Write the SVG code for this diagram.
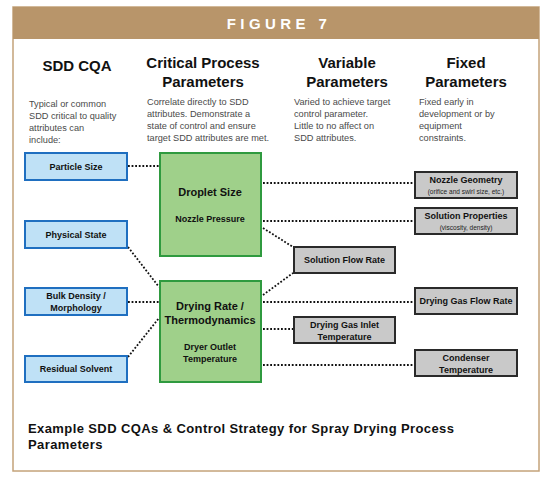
<svg xmlns="http://www.w3.org/2000/svg" width="550" height="481" viewBox="0 0 550 481">
<style>
.frame{fill:#fff;stroke:#c4a37a;stroke-width:1.5}
.hdr{fill:#b8956a}
.title{font-family:"Liberation Sans",Arial,sans-serif;font-weight:bold;font-size:15px;fill:#fff;letter-spacing:4.4px;text-anchor:middle}
.col{font-family:"Liberation Sans",Arial,sans-serif;font-weight:bold;font-size:15px;fill:#111;text-anchor:middle}
.desc{font-family:"Liberation Sans",Arial,sans-serif;font-size:9.2px;fill:#4a4a4a}
.blue{fill:#bfe1f6;stroke:#1f6fc0;stroke-width:2}
.green{fill:#9fd08a;stroke:#2f9a3f;stroke-width:2}
.gray{fill:#c9c9c9;stroke:#2a2a2a;stroke-width:2}
.lbl{font-family:"Liberation Sans",Arial,sans-serif;font-weight:bold;font-size:9px;fill:#111;text-anchor:middle}
.big{font-family:"Liberation Sans",Arial,sans-serif;font-weight:bold;font-size:11px;fill:#111;text-anchor:middle}
.small{font-family:"Liberation Sans",Arial,sans-serif;font-size:6.5px;fill:#222;text-anchor:middle}
.cap{font-family:"Liberation Sans",Arial,sans-serif;font-weight:bold;font-size:13px;letter-spacing:0.4px;fill:#111}
.conn line{stroke:#111;stroke-width:1.8;stroke-dasharray:1.8 1.8;fill:none}
</style>
<rect class="frame" x="13" y="7" width="526" height="464"/>
<rect class="hdr" x="13" y="7" width="526" height="32"/>
<text class="title" x="279" y="29">FIGURE 7</text>

<g id="headings">
<text class="col" x="77" y="71">SDD CQA</text>
<text class="col" x="203" y="68">Critical Process</text>
<text class="col" x="203" y="87">Parameters</text>
<text class="col" x="347" y="68">Variable</text>
<text class="col" x="347" y="87">Parameters</text>
<text class="col" x="466" y="68">Fixed</text>
<text class="col" x="466" y="87">Parameters</text>
</g>
<g id="descriptions">
<text class="desc" x="29" y="107">Typical or common</text>
<text class="desc" x="29" y="119">SDD critical to quality</text>
<text class="desc" x="29" y="131">attributes can</text>
<text class="desc" x="29" y="143">include:</text>
<text class="desc" x="147" y="105">Correlate directly to SDD</text>
<text class="desc" x="147" y="117">attributes. Demonstrate a</text>
<text class="desc" x="147" y="129">state of control and ensure</text>
<text class="desc" x="147" y="141">target SDD attributes are met.</text>
<text class="desc" x="294" y="105">Varied to achieve target</text>
<text class="desc" x="294" y="117">control parameter.</text>
<text class="desc" x="294" y="129">Little to no affect on</text>
<text class="desc" x="294" y="141">SDD attributes.</text>
<text class="desc" x="419" y="105">Fixed early in</text>
<text class="desc" x="419" y="117">development  or by</text>
<text class="desc" x="419" y="129">equipment</text>
<text class="desc" x="419" y="141">constraints.</text>
</g>

<g class="conn" id="connectors">
<line x1="128" y1="166" x2="159" y2="166"/>
<line x1="263" y1="183" x2="414" y2="183"/>
<line x1="263" y1="221" x2="414" y2="221"/>
<line x1="263" y1="228" x2="293" y2="247"/>
<line x1="263" y1="295" x2="293" y2="273"/>
<line x1="263" y1="302" x2="414" y2="302"/>
<line x1="263" y1="329" x2="293" y2="329"/>
<line x1="263" y1="365" x2="414" y2="365"/>
<line x1="128" y1="247" x2="159" y2="287"/>
<line x1="128" y1="302" x2="159" y2="302"/>
<line x1="128" y1="357" x2="159" y2="318"/>
</g>

<g id="particle-size"><rect class="blue" x="25" y="153" width="102" height="27"/><text class="lbl" x="76" y="169.5">Particle Size</text></g>
<g id="physical-state"><rect class="blue" x="25" y="221" width="102" height="27"/><text class="lbl" x="76" y="237.5">Physical State</text></g>
<g id="bulk-density"><rect class="blue" x="25" y="288" width="102" height="27"/><text class="lbl" x="76" y="299">Bulk Density /</text><text class="lbl" x="76" y="311">Morphology</text></g>
<g id="residual-solvent"><rect class="blue" x="25" y="356" width="102" height="26"/><text class="lbl" x="76" y="372">Residual Solvent</text></g>

<g id="droplet-size"><rect class="green" x="160" y="153" width="101" height="103"/><text class="big" x="210" y="196">Droplet Size</text><text class="lbl" x="210" y="222">Nozzle Pressure</text></g>
<g id="drying-rate"><rect class="green" x="160" y="281" width="101" height="101"/><text class="big" x="210" y="310">Drying Rate /</text><text class="big" x="210" y="324">Thermodynamics</text><text class="lbl" x="210" y="350">Dryer Outlet</text><text class="lbl" x="210" y="362">Temperature</text></g>

<g id="solution-flow-rate"><rect class="gray" x="294" y="247" width="101" height="26"/><text class="lbl" x="344.5" y="263">Solution Flow Rate</text></g>
<g id="drying-gas-inlet"><rect class="gray" x="294" y="317" width="101" height="26"/><text class="lbl" x="344.5" y="328">Drying Gas Inlet</text><text class="lbl" x="344.5" y="340">Temperature</text></g>

<g id="nozzle-geometry"><rect class="gray" x="415" y="172" width="102" height="26"/><text class="lbl" x="466" y="183">Nozzle Geometry</text><text class="small" x="466" y="194">(orifice and swirl size, etc.)</text></g>
<g id="solution-properties"><rect class="gray" x="415" y="208" width="102" height="26"/><text class="lbl" x="466" y="219">Solution Properties</text><text class="small" x="466" y="230">(viscosity, density)</text></g>
<g id="drying-gas-flow-rate"><rect class="gray" x="415" y="288" width="102" height="26"/><text class="lbl" x="466" y="304">Drying Gas Flow Rate</text></g>
<g id="condenser-temperature"><rect class="gray" x="415" y="350" width="102" height="26"/><text class="lbl" x="466" y="360.5">Condenser</text><text class="lbl" x="466" y="372.5">Temperature</text></g>

<text class="cap" x="28" y="433">Example SDD CQAs &amp; Control Strategy for Spray Drying Process</text>
<text class="cap" x="28" y="449">Parameters</text>
</svg>
